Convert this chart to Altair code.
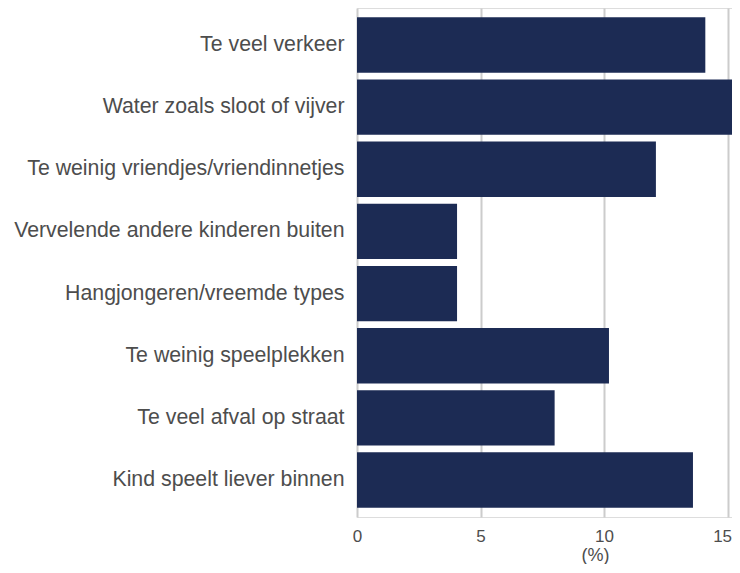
import altair as alt
import pandas as pd

categories = [
    "Te veel verkeer",
    "Water zoals sloot of vijver",
    "Te weinig vriendjes/vriendinnetjes",
    "Vervelende andere kinderen buiten",
    "Hangjongeren/vreemde types",
    "Te weinig speelplekken",
    "Te veel afval op straat",
    "Kind speelt liever binnen",
]
values = [14.1, 16.5, 12.1, 4.05, 4.05, 10.2, 8.0, 13.6]
x_ticks = [0, 5, 10, 15]

df = pd.DataFrame({"reden": categories, "pct": values})

chart = (
    alt.Chart(df)
    .mark_bar(color="#1c2b54", clip=True)
    .encode(
        x=alt.X(
            "pct:Q",
            scale=alt.Scale(domain=[0, 15.18], nice=False, zero=True),
            axis=alt.Axis(
                values=x_ticks,
                title="(%)",
                grid=True,
                gridColor="#cccccc",
                gridWidth=2,
                domain=False,
                ticks=False,
                labelFont="Liberation Sans",
                labelFontSize=17,
                labelColor="#4d4d4d",
                labelPadding=11,
                labelAlign={"condition": {"test": "datum.value == 15", "value": "right"}, "value": "center"},
                labelOffset={"condition": {"test": "datum.value == 15", "value": 4}, "value": 0},
                titleFont="Liberation Sans",
                titleFontSize=18,
                titleFontWeight="normal",
                titleColor="#4d4d4d",
                titleX=238,
                titleY=43,
                titleAlign="center",
                titleBaseline="alphabetic",
            ),
        ),
        y=alt.Y(
            "reden:N",
            sort=categories,
            scale=alt.Scale(paddingInner=0.11, paddingOuter=0.15),
            axis=alt.Axis(
                title=None,
                domain=False,
                ticks=False,
                grid=False,
                labelFont="Liberation Sans",
                labelFontSize=21.3,
                labelColor="#4d4d4d",
                labelPadding=13,
                labelLimit=400,
            ),
        ),
    )
    .properties(
        width=375,
        height=509,
        autosize=alt.AutoSizeParams(type="none"),
        padding={"left": 349, "top": 0, "right": 0, "bottom": 47},
    )
    .configure_view(stroke=None)
    .configure(background="white")
)

chart.save("out.html", embed_options={"renderer": "svg", "actions": False})
